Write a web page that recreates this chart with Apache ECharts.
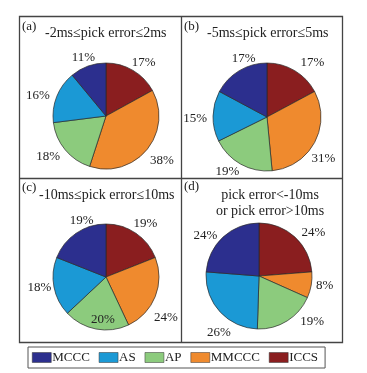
<!DOCTYPE html>
<html><head><meta charset="utf-8">
<script src="https://cdn.jsdelivr.net/npm/echarts@6/dist/echarts.min.js"></script>
<style>html,body{margin:0;padding:0;background:#fff}#c{width:367px;height:373px}</style>
</head><body><div id="c"></div>
<script>
// Legend order
const legendNames = ['MCCC', 'AS', 'AP', 'MMCCC', 'ICCS'];
// Slice order, clockwise from 12 o'clock
const sliceOrder = ['ICCS', 'MMCCC', 'AP', 'AS', 'MCCC'];
// Percentages per panel, in sliceOrder
const panelA = [17, 38, 18, 16, 11];
const panelB = [17, 31, 19, 15, 17];
const panelC = [19, 24, 20, 18, 19];
const panelD = [24, 8, 19, 26, 24];
const panelTags = ['(a)', '(b)', '(c)', '(d)'];
const panelTitles = ['-2ms\u2264pick error\u22642ms', '-5ms\u2264pick error\u22645ms', '-10ms\u2264pick error\u226410ms', 'pick error<-10ms\nor pick error>10ms'];

const colors = {MCCC: '#2c2f8e', AS: '#1b99d5', AP: '#8ccb7d', MMCCC: '#ef8a2e', ICCS: '#8a1e1f'};
const FONT = '"Liberation Serif", "Times New Roman", serif';

const panels = [panelA, panelB, panelC, panelD];
// layout only
const centers = [[106, 116], [267, 117], [106, 277], [259, 276]];
const radii = [53, 54, 53, 53];
// label nudges (px) per panel, in sliceOrder
const labelNudge = [
  [[2, 2], [2, 3], [-4, -1], [-3, 3], [1, 2]],
  [[9, 2], [-6, 11], [-5, -3], [-1, 3], [13, -2]],
  [[0, 0], [-5, 17], [10, -21], [2, -2], [15, -3]],
  [[7, 4], [0, -1], [16, -9], [12, 14], [-6, 7]]
];

function makeLayout(nudges) {
  return function (p) {
    const pts = p.labelLinePoints;
    if (!pts) return {};
    const a = pts[0], b = pts[1];
    let dx = b[0] - a[0], dy = b[1] - a[1];
    const L = Math.hypot(dx, dy) || 1; dx /= L; dy /= L;
    const w = p.labelRect.width, h = p.labelRect.height;
    const n = nudges[p.dataIndex] || [0, 0];
    return {x: b[0] + dx * w / 2 + n[0], y: b[1] + dy * h / 2 + n[1], align: 'center', verticalAlign: 'middle'};
  };
}

const series = panels.map((vals, i) => ({
  type: 'pie',
  center: centers[i],
  radius: radii[i],
  startAngle: 90,
  clockwise: true,
  avoidLabelOverlap: false,
  animation: false,
  silent: true,
  itemStyle: {borderColor: '#2a2a2a', borderWidth: 0.7},
  label: {show: true, position: 'outside', formatter: '{c}%', fontFamily: FONT, fontSize: 13, color: '#222'},
  labelLine: {show: true, length: 5, length2: 0, lineStyle: {width: 0, opacity: 0}},
  labelLayout: makeLayout(labelNudge[i]),
  emphasis: {disabled: true},
  data: sliceOrder.map((n, k) => ({name: n, value: vals[k], itemStyle: {color: colors[n]}}))
}));

const tagPos = [[22, 20], [184, 20], [22, 181], [184, 180]];
const titlePos = [[45, 25], [207, 25], [39, 187], [270, 187]];
const titles = [];
panelTags.forEach((t, i) => titles.push({text: t, left: tagPos[i][0], top: tagPos[i][1], padding: 0,
  textStyle: {fontFamily: FONT, fontSize: 13, fontWeight: 'normal', color: '#222'}}));
panelTitles.forEach((t, i) => titles.push({text: t, left: titlePos[i][0], top: titlePos[i][1], padding: 0,
  textAlign: i === 3 ? 'center' : 'left',
  textStyle: {fontFamily: FONT, fontSize: 14, fontWeight: 'normal', color: '#222', lineHeight: 16, align: i === 3 ? 'center' : 'left'}}));

const chart = echarts.init(document.getElementById('c'), null, {renderer: 'canvas'});
chart.setOption({
  backgroundColor: '#fff',
  animation: false,
  title: titles,
  legend: {
    data: legendNames, left: 28, top: 347, orient: 'horizontal',
    itemWidth: 19, itemHeight: 10, itemGap: 9, padding: [4, 7, 4, 4],
    borderColor: '#555', borderWidth: 1, selectedMode: false,
    icon: 'rect',
    itemStyle: {borderColor: '#333', borderWidth: 0.5},
    textStyle: {fontFamily: FONT, fontSize: 13, color: '#222', padding: [0, 0, 0, -4]}
  },
  graphic: [
    {type: 'rect', shape: {x: 19.5, y: 16.5, width: 323, height: 326}, style: {fill: 'none', stroke: '#444', lineWidth: 1.3}, silent: true},
    {type: 'line', shape: {x1: 181.5, y1: 16.5, x2: 181.5, y2: 342.5}, style: {stroke: '#444', lineWidth: 1.3}, silent: true},
    {type: 'line', shape: {x1: 19.5, y1: 178.5, x2: 342.5, y2: 178.5}, style: {stroke: '#444', lineWidth: 1.3}, silent: true}
  ],
  series: series
});
</script></body></html>
